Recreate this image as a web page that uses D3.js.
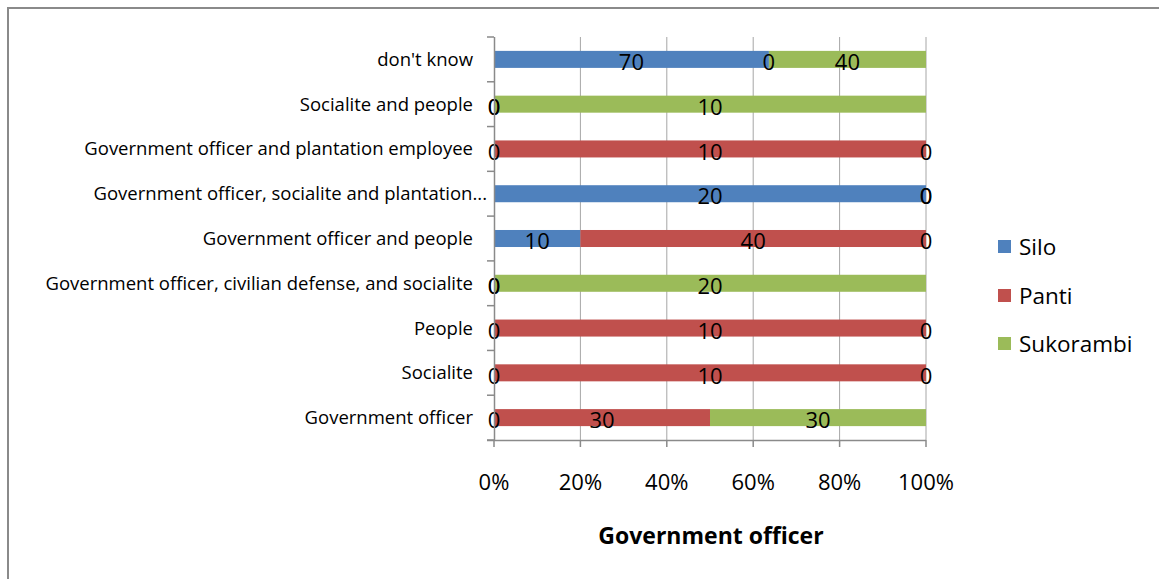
<!DOCTYPE html>
<html>
<head>
<meta charset="utf-8">
<script src="https://cdn.jsdelivr.net/npm/d3@7"></script>
<style>
  html, body { margin: 0; padding: 0; background: #fff; }
  svg { display: block; }
  text { font-family: "Open Sans", Lato, sans-serif; fill: #000; }
</style>
</head>
<body>
<svg id="chart" width="1159" height="579"></svg>
<script>
// Categories, top to bottom as drawn
const categories = [
  "don't know",
  "Socialite and people",
  "Government officer and plantation employee",
  "Government officer, socialite and plantation...",
  "Government officer and people",
  "Government officer, civilian defense, and socialite",
  "People",
  "Socialite",
  "Government officer"
];
const seriesNames = ["Silo", "Panti", "Sukorambi"];
const silo      = [70, 0, 0, 20, 10, 0, 0, 0, 0];
const panti     = [0, 0, 10, 0, 40, 0, 10, 10, 30];
const sukorambi = [40, 10, 0, 0, 0, 20, 0, 0, 30];
const xTicks = [0, 0.2, 0.4, 0.6, 0.8, 1.0];
const xTickLabels = ["0%", "20%", "40%", "60%", "80%", "100%"];
const axisTitle = "Government officer";
const colors = ["#4F81BD", "#C0504D", "#9BBB59"];

const svg = d3.select("#chart");

// Outer border
svg.append("rect").attr("x", 8).attr("y", 8).attr("width", 1160).attr("height", 580)
  .attr("fill", "none").attr("stroke", "#8a8a8a").attr("stroke-width", 2);

const pLeft = 494, pRight = 926, pTop = 37, pBottom = 440;

const x = d3.scaleLinear().domain([0, 1]).range([pLeft, pRight]);
const y = d3.scaleBand().domain(categories).range([pTop, pBottom]).paddingInner(0.62).paddingOuter(0.31);

// Table
const rows = categories.map((c, i) => {
  const vals = [silo[i], panti[i], sukorambi[i]];
  const total = d3.sum(vals);
  return { cat: c, vals, total };
});
const stackData = rows.map(r => ({ cat: r.cat, Silo: r.vals[0] / r.total, Panti: r.vals[1] / r.total, Sukorambi: r.vals[2] / r.total,
  raw: { Silo: r.vals[0], Panti: r.vals[1], Sukorambi: r.vals[2] } }));
const stacked = d3.stack().keys(seriesNames)(stackData);

// Gridlines
const g = svg.append("g");
g.selectAll("line.grid").data(xTicks.slice(1)).join("line")
  .attr("x1", d => x(d)).attr("x2", d => x(d))
  .attr("y1", pTop).attr("y2", pBottom)
  .attr("stroke", "#a6a6a6").attr("stroke-width", 1);

// Bars
stacked.forEach((layer, si) => {
  g.selectAll("rect.s" + si).data(layer).join("rect")
    .attr("class", "s" + si)
    .attr("x", d => x(d[0]))
    .attr("y", d => y(d.data.cat))
    .attr("width", d => x(d[1]) - x(d[0]))
    .attr("height", y.bandwidth())
    .attr("fill", colors[si]);
});

// Axes
const yAxisG = svg.append("g");
yAxisG.append("line").attr("x1", pLeft + 0.5).attr("x2", pLeft + 0.5).attr("y1", pTop).attr("y2", pBottom)
  .attr("stroke", "#8a8a8a").attr("stroke-width", 1.5);
const boundaries = d3.range(categories.length + 1).map(i => pTop + i * (pBottom - pTop) / categories.length);
yAxisG.selectAll("line.t").data(boundaries).join("line")
  .attr("class", "t")
  .attr("x1", pLeft - 7).attr("x2", pLeft).attr("y1", d => d).attr("y2", d => d)
  .attr("stroke", "#8a8a8a").attr("stroke-width", 1.5);
yAxisG.selectAll("text").data(categories).join("text")
  .attr("x", (d, i) => i === 3 ? 487 : 473)
  .attr("y", d => y(d) + y.bandwidth() / 2)
  .attr("dy", "0.35em")
  .attr("text-anchor", "end")
  .attr("font-size", 18.5)
  .text(d => d);

const xAxisG = svg.append("g");
xAxisG.append("line").attr("x1", pLeft - 7).attr("x2", pRight).attr("y1", pBottom + 0.5).attr("y2", pBottom + 0.5)
  .attr("stroke", "#8a8a8a").attr("stroke-width", 1.5);
xAxisG.selectAll("line.t").data(xTicks).join("line")
  .attr("class", "t")
  .attr("x1", d => x(d)).attr("x2", d => x(d)).attr("y1", pBottom).attr("y2", pBottom + 7)
  .attr("stroke", "#8a8a8a").attr("stroke-width", 1.5);
xAxisG.selectAll("text").data(xTicks).join("text")
  .attr("x", d => x(d)).attr("y", 482).attr("dy", "0.35em")
  .attr("text-anchor", "middle").attr("font-size", 22)
  .text((d, i) => xTickLabels[i]);

svg.append("text").attr("x", 711).attr("y", 536).attr("dy", "0.35em")
  .attr("text-anchor", "middle").attr("font-size", 23).attr("font-weight", "bold")
  .text(axisTitle);

// Data labels
stacked.forEach((layer, si) => {
  g.selectAll("text.l" + si).data(layer).join("text")
    .attr("class", "l" + si)
    .attr("x", d => x((d[0] + d[1]) / 2))
    .attr("y", d => y(d.data.cat) + y.bandwidth() / 2 + 3)
    .attr("dy", "0.35em")
    .attr("text-anchor", "middle")
    .attr("font-size", 22)
    .text(d => d.data.raw[seriesNames[si]]);
});

// Legend
const legendY = [247, 296, 344];
const lg = svg.append("g");
seriesNames.forEach((s, i) => {
  lg.append("rect").attr("x", 998).attr("y", legendY[i] - 7).attr("width", 13).attr("height", 13).attr("fill", colors[i]);
  lg.append("text").attr("x", 1019).attr("y", legendY[i]).attr("dy", "0.35em").attr("font-size", 22.5).text(s);
});
</script>
</body>
</html>
